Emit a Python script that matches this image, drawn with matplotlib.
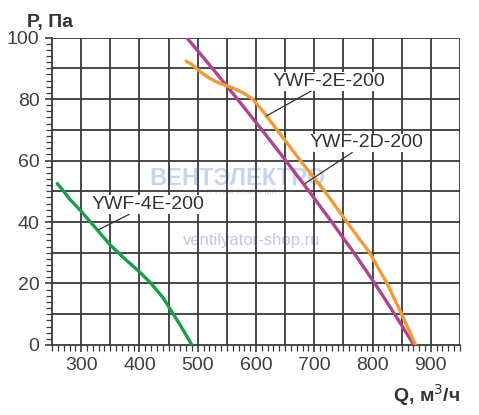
import matplotlib
matplotlib.use("Agg")
import matplotlib.pyplot as plt
from matplotlib.ticker import MultipleLocator

plt.rcParams['font.family'] = ['Liberation Sans', 'DejaVu Sans']

# Data (Q in m3/h, P in Pa)
q_4e = [259, 268, 280, 300, 325, 350, 375, 400, 420, 440, 455, 470, 490]
p_4e = [52.5, 50.5, 47.5, 43.5, 38, 32.5, 28, 23.8, 20, 15.5, 11, 6.5, 0]

q_2d = [481, 525, 568, 610, 651, 691, 730, 768, 804, 838, 871]
p_2d = [100, 90, 80, 70, 60, 50, 40, 30, 20, 10, 0]

q_2e = [480, 490, 500, 510, 520, 535, 550, 565, 580, 594, 610, 636, 676, 718, 756, 795, 810, 825, 850, 874]
p_2e = [92.3, 91.2, 89.6, 88.1, 86.8, 85.3, 84.3, 83.2, 81.8, 80, 76.5, 70, 60, 50, 40, 30, 25, 20, 10, 0]

x_ticks = [300, 400, 500, 600, 700, 800, 900]
y_ticks = [0, 20, 40, 60, 80, 100]

fig = plt.figure(figsize=(4.79, 4.15), dpi=100)
ax = fig.add_axes([0.1086, 0.1687, 0.8517, 0.7409])
ax.set_xlim(250, 950)
ax.set_ylim(0, 100)

grid_c = '#3a3a3a'
ax.set_xticks(x_ticks)
ax.set_yticks(y_ticks)
ax.xaxis.set_minor_locator(MultipleLocator(10))
ax.yaxis.set_minor_locator(MultipleLocator(2))

# grid lines every 50 / 10
for gx in range(300, 951, 50):
    ax.axvline(gx, color=grid_c, lw=1.3, zorder=1)
for gy in range(10, 101, 10):
    ax.axhline(gy, color=grid_c, lw=1.3, zorder=1)

for s in ['top', 'right']:
    ax.spines[s].set_visible(False)
for s in ['left', 'bottom']:
    ax.spines[s].set_color(grid_c)
    ax.spines[s].set_linewidth(1.3)

ax.tick_params(which='major', direction='out', length=5, width=1.2, color=grid_c,
               labelsize=14, labelcolor='#404040', pad=4)
ax.tick_params(which='minor', direction='out', length=4, width=0.9, color=grid_c)

# watermark
ax.text(568, 54, 'ВЕНТЭЛЕКТРО', fontsize=17, fontweight='bold', color='#c6d3f2',
        ha='center', va='center', zorder=0.5)
ax.text(575, 49.5, 'ГРУППА КОМПАНИЙ', fontsize=5, color='#c6d3f2',
        ha='center', va='center', zorder=0.5)
ax.text(593, 34, 'ventilyator-shop.ru', fontsize=12, color='#bcc8ec',
        ha='center', va='center', zorder=0.5)

ax.plot(q_4e, p_4e, color='#17a04b', lw=2.4, solid_capstyle='round', solid_joinstyle='round', zorder=3)
ax.plot(q_2d, p_2d, color='#b0428f', lw=2.4, solid_capstyle='round', solid_joinstyle='round', zorder=3)
ax.plot(q_2e, p_2e, color='#f39a32', lw=2.4, solid_capstyle='round', solid_joinstyle='round', zorder=3)

lab_kw = dict(fontsize=14, color='#333333', ha='center', va='center', zorder=4,
              bbox=dict(boxstyle='square,pad=0.05', fc='white', ec='none'),
              arrowprops=dict(arrowstyle='-', color='#333333', lw=0.9, shrinkA=0, shrinkB=0))
ax.annotate('YWF-4E-200', xy=(330, 37.5), xytext=(415, 45.6), **lab_kw)
ax.annotate('YWF-2E-200', xy=(618, 74.5), xytext=(725, 85.8), **lab_kw)
ax.annotate('YWF-2D-200', xy=(684, 52.5), xytext=(790, 65.7), **lab_kw)

fig.text(27 / 479, 1 - 23 / 415, 'P, Па', fontsize=14, fontweight='bold', color='#333333',
         ha='left', va='center')
fig.text(460 / 479, 1 - 395 / 415, 'Q, м$^3$/ч', fontsize=14, fontweight='bold', color='#333333',
         ha='right', va='center')

fig.savefig('out.png', dpi=100)
